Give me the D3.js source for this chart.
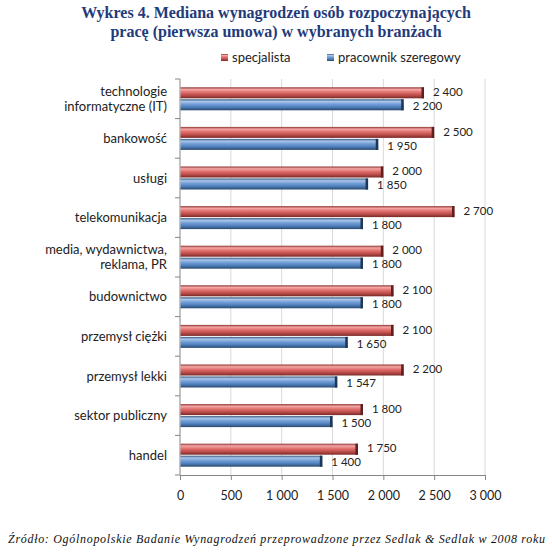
<!DOCTYPE html>
<html>
<head>
<meta charset="utf-8">
<script src="https://cdn.jsdelivr.net/npm/d3@7"></script>
<style>
  body { margin: 0; background: #fff; }
  svg { display: block; }
</style>
</head>
<body>
<svg width="552" height="555"></svg>
<script>
var categories = [
  ["technologie", "informatyczne (IT)"],
  ["bankowość"],
  ["usługi"],
  ["telekomunikacja"],
  ["media, wydawnictwa,", "reklama, PR"],
  ["budownictwo"],
  ["przemysł ciężki"],
  ["przemysł lekki"],
  ["sektor publiczny"],
  ["handel"]
];
var specjalista = [2400, 2500, 2000, 2700, 2000, 2100, 2100, 2200, 1800, 1750];
var szeregowy = [2200, 1950, 1850, 1800, 1800, 1800, 1650, 1547, 1500, 1400];
var xTicks = [0, 500, 1000, 1500, 2000, 2500, 3000];
var seriesNames = ["specjalista", "pracownik szeregowy"];
var titleLines = ["Wykres 4. Mediana wynagrodzeń osób rozpoczynających",
  "pracę (pierwsza umowa) w wybranych branżach"];
var source = "Źródło: Ogólnopolskie Badanie Wynagrodzeń przeprowadzone przez Sedlak & Sedlak w 2008 roku";

var svg = d3.select("svg");
var sans = "Lato, 'Liberation Sans', Arial, sans-serif";
var fs = 13;
var fmt = function (v) {
  var s = String(v);
  return s.length > 3 ? s.slice(0, s.length - 3) + " " + s.slice(-3) : s;
};

var x = d3.scaleLinear().domain([0, 3000]).range([180, 485]);
var y = d3.scaleBand().domain(d3.range(categories.length)).range([79, 475]);

// gradients for the bevelled bars
var defs = svg.append("defs");
var grads = {
  red: ["#8e3432", "#f3a6a4", "#e0706d", "#c0504d", "#7a2927"],
  blue: ["#34577f", "#aac6ea", "#729dd6", "#4f81bd", "#2a496e"]
};
Object.keys(grads).forEach(function (k) {
  var g = defs.append("linearGradient").attr("id", "g-" + k)
    .attr("x1", 0).attr("y1", 0).attr("x2", 0).attr("y2", 1);
  [0, 0.2, 0.45, 0.7, 1].forEach(function (o, i) {
    g.append("stop").attr("offset", o).attr("stop-color", grads[k][i]);
  });
});

// title
svg.append("g").selectAll("text")
  .data(titleLines)
  .enter().append("text")
  .attr("x", 276)
  .attr("y", function (d, i) { return 18 + i * 19; })
  .attr("text-anchor", "middle")
  .attr("font-family", "'Liberation Serif', 'Times New Roman', serif")
  .attr("font-weight", "bold")
  .attr("font-size", 16)
  .attr("fill", "#1f3b7a")
  .text(function (d) { return d; });

// legend
var legend = svg.append("g");
var legendX = [221, 327];
var legendFill = ["url(#g-red)", "url(#g-blue)"];
seriesNames.forEach(function (name, i) {
  legend.append("rect")
    .attr("x", legendX[i]).attr("y", 54)
    .attr("width", 7).attr("height", 7)
    .attr("fill", legendFill[i]);
  legend.append("text")
    .attr("x", legendX[i] + 11).attr("y", 62)
    .attr("font-family", sans).attr("font-size", fs)
    .attr("fill", "#222")
    .text(name);
});

// gridlines
svg.append("g").selectAll("line")
  .data(xTicks.slice(1))
  .enter().append("line")
  .attr("x1", function (d) { return x(d); })
  .attr("x2", function (d) { return x(d); })
  .attr("y1", 79).attr("y2", 475)
  .attr("stroke", "#d9d9d9");

// x axis
var xAxis = svg.append("g")
  .attr("transform", "translate(0,475)")
  .call(d3.axisBottom(x).tickValues(xTicks).tickSize(5).tickSizeOuter(0).tickFormat(fmt));
xAxis.select(".domain").attr("stroke", "#868686");
xAxis.selectAll(".tick line").attr("stroke", "#868686");
xAxis.selectAll(".tick text")
  .attr("y", 16)
  .attr("font-family", sans).attr("font-size", 12.5).attr("fill", "#222");

// y axis
var yAxis = svg.append("g").attr("transform", "translate(180,0)");
yAxis.append("line")
  .attr("y1", 79).attr("y2", 475)
  .attr("stroke", "#868686");
yAxis.selectAll(".yt")
  .data(d3.range(categories.length + 1))
  .enter().append("line")
  .attr("class", "yt")
  .attr("x1", -5).attr("x2", 0)
  .attr("y1", function (d) { return 79 + d * y.step(); })
  .attr("y2", function (d) { return 79 + d * y.step(); })
  .attr("stroke", "#868686");

// category labels
var cat = svg.append("g").selectAll("text")
  .data(categories)
  .enter().append("text")
  .attr("text-anchor", "end")
  .attr("font-family", sans).attr("font-size", fs)
  .attr("fill", "#222")
  .attr("transform", function (d, i) {
    return "translate(167," + (y(i) + y.bandwidth() / 2) + ")";
  });
cat.each(function (d) {
  var t = d3.select(this);
  d.forEach(function (line, j) {
    t.append("tspan")
      .attr("x", 0)
      .attr("y", (j - (d.length - 1) / 2) * 15 + 4.5)
      .text(line);
  });
});

// bars
var barH = 11;
var series = [
  { values: specjalista, fill: "url(#g-red)", cap: "#5e1f1d", off: -barH - 0.5, nudge: -1 },
  { values: szeregowy, fill: "url(#g-blue)", cap: "#1f3756", off: 0.5, nudge: 1 }
];
series.forEach(function (s) {
  var g = svg.append("g");
  var bars = g.selectAll("g")
    .data(s.values)
    .enter().append("g");
  bars.append("rect")
    .attr("x", x(0) + 0.5)
    .attr("y", function (d, i) { return y(i) + y.bandwidth() / 2 + s.off; })
    .attr("width", function (d) { return x(d) - x(0) - 0.5; })
    .attr("height", barH)
    .attr("fill", s.fill);
  bars.append("rect")
    .attr("x", function (d) { return x(d) - 2.5; })
    .attr("y", function (d, i) { return y(i) + y.bandwidth() / 2 + s.off; })
    .attr("width", 2.5)
    .attr("height", barH)
    .attr("fill", s.cap);
  bars.append("text")
    .attr("x", function (d) { return x(d) + 9; })
    .attr("y", function (d, i) { return y(i) + y.bandwidth() / 2 + s.off + barH / 2 + 4.2 + s.nudge; })
    .attr("font-family", sans).attr("font-size", 11.5)
    .attr("fill", "#222")
    .text(function (d) { return fmt(d); });
});

// source
svg.append("text")
  .attr("x", 8).attr("y", 543)
  .attr("font-family", "'Liberation Serif', 'Times New Roman', serif")
  .attr("font-style", "italic")
  .attr("font-size", 12)
  .attr("fill", "#111")
  .attr("textLength", 537)
  .text(source);
</script>
</body>
</html>
